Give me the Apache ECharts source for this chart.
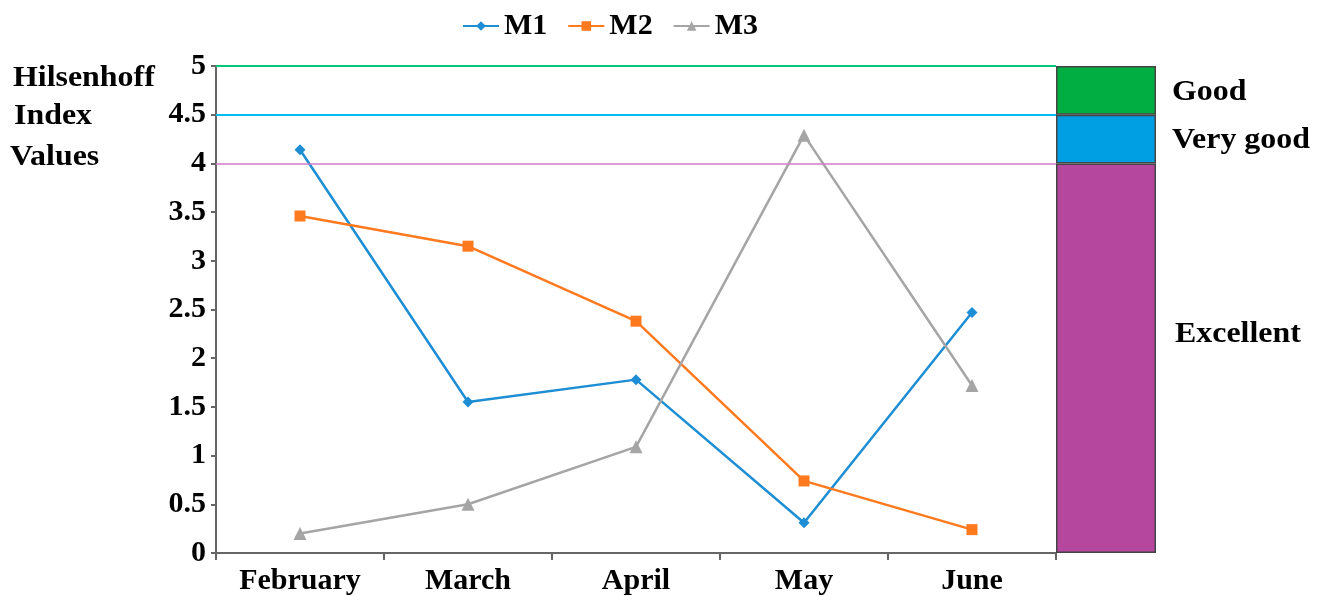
<!DOCTYPE html>
<html>
<head>
<meta charset="utf-8">
<script src="https://cdn.jsdelivr.net/npm/echarts@6/dist/echarts.min.js"></script>
<style>html,body{margin:0;padding:0;background:#fff}#c{width:1327px;height:596px}</style>
</head>
<body>
<div id="c"></div>
<script>
const categories = ['February', 'March', 'April', 'May', 'June'];
const m1 = [4.14, 1.55, 1.78, 0.31, 2.47];
const m2 = [3.46, 3.15, 2.38, 0.74, 0.24];
const m3 = [0.20, 0.50, 1.09, 4.29, 1.72];
const bandNames = ['Excellent', 'Very good', 'Good'];
const bandSizes = [4, 0.5, 0.5];
const bandColors = ['#B5479F', '#009FE3', '#00AE42'];
const thresholds = [5, 4.5, 4];
const thresholdColors = ['#00C87A', '#00BFEF', '#D27ACB'];

const FONT = '"Liberation Serif", "Times New Roman", serif';
const chart = echarts.init(document.getElementById('c'));

const seriesStyle = (name, data, color, symbol, size) => ({
  name, type: 'line', data, xAxisIndex: 0, yAxisIndex: 0,
  symbol, symbolSize: size, showSymbol: true,
  lineStyle: { color, width: 2.5 }, itemStyle: { color },
  emphasis: { disabled: true }
});

const s1 = seriesStyle('M1', m1, '#1E8ED4', 'diamond', 11);
s1.markLine = {
  silent: true, symbol: 'none', label: { show: false },
  data: thresholds.map((v, i) => ({ yAxis: v, lineStyle: { color: thresholdColors[i], width: i === 2 ? 1.5 : 2, type: 'solid' } }))
};

const bandSeries = bandSizes.map((v, i) => ({
  name: bandNames[i], type: 'bar', stack: 'band', xAxisIndex: 1, yAxisIndex: 1,
  data: [v], barWidth: '100%', silent: true,
  itemStyle: { color: bandColors[i], borderColor: '#444', borderWidth: 1.5 }
}));

const txt = (text, left, top) => ({
  type: 'text', left, top, scaleX: 1.1,
  style: { text, font: 'bold 29px ' + FONT, fill: '#000' }
});

chart.setOption({
  animation: false,
  legend: {
    data: ['M1', 'M2', 'M3'], left: 457, top: 6,
    itemWidth: 36, itemHeight: 12, itemGap: 20,
    textStyle: { fontFamily: FONT, fontWeight: 'bold', fontSize: 30, color: '#000' }
  },
  grid: [
    { left: 216, right: 271, top: 66, bottom: 43 },
    { left: 1056, width: 100, top: 66, bottom: 43 }
  ],
  xAxis: [
    {
      type: 'category', data: categories, gridIndex: 0, boundaryGap: true,
      axisLine: { lineStyle: { color: '#666', width: 2 } },
      axisTick: { show: true, length: 7, lineStyle: { color: '#666', width: 2 } },
      axisLabel: { fontFamily: FONT, fontWeight: 'bold', fontSize: 30, color: '#000', margin: 13 }
    },
    { type: 'category', data: [''], gridIndex: 1, show: false }
  ],
  yAxis: [
    {
      type: 'value', gridIndex: 0, min: 0, max: 5, interval: 0.5,
      splitLine: { show: false },
      axisLine: { show: true, lineStyle: { color: '#666', width: 2 } },
      axisTick: { show: true, length: 5, lineStyle: { color: '#666', width: 2 } },
      axisLabel: { fontFamily: FONT, fontWeight: 'bold', fontSize: 30, color: '#000', margin: 10 }
    },
    { type: 'value', gridIndex: 1, min: 0, max: 5, show: false }
  ],
  graphic: [
    txt('Hilsenhoff', 13, 64),
    txt('Index', 14, 102),
    txt('Values', 10, 143),
    txt(bandNames[2], 1172, 78),
    txt(bandNames[1], 1172, 126),
    txt(bandNames[0], 1175, 320)
  ],
  series: [
    s1,
    seriesStyle('M2', m2, '#FF7A1F', 'rect', 11),
    seriesStyle('M3', m3, '#A5A5A5', 'triangle', 13),
    ...bandSeries
  ]
});
</script>
</body>
</html>
